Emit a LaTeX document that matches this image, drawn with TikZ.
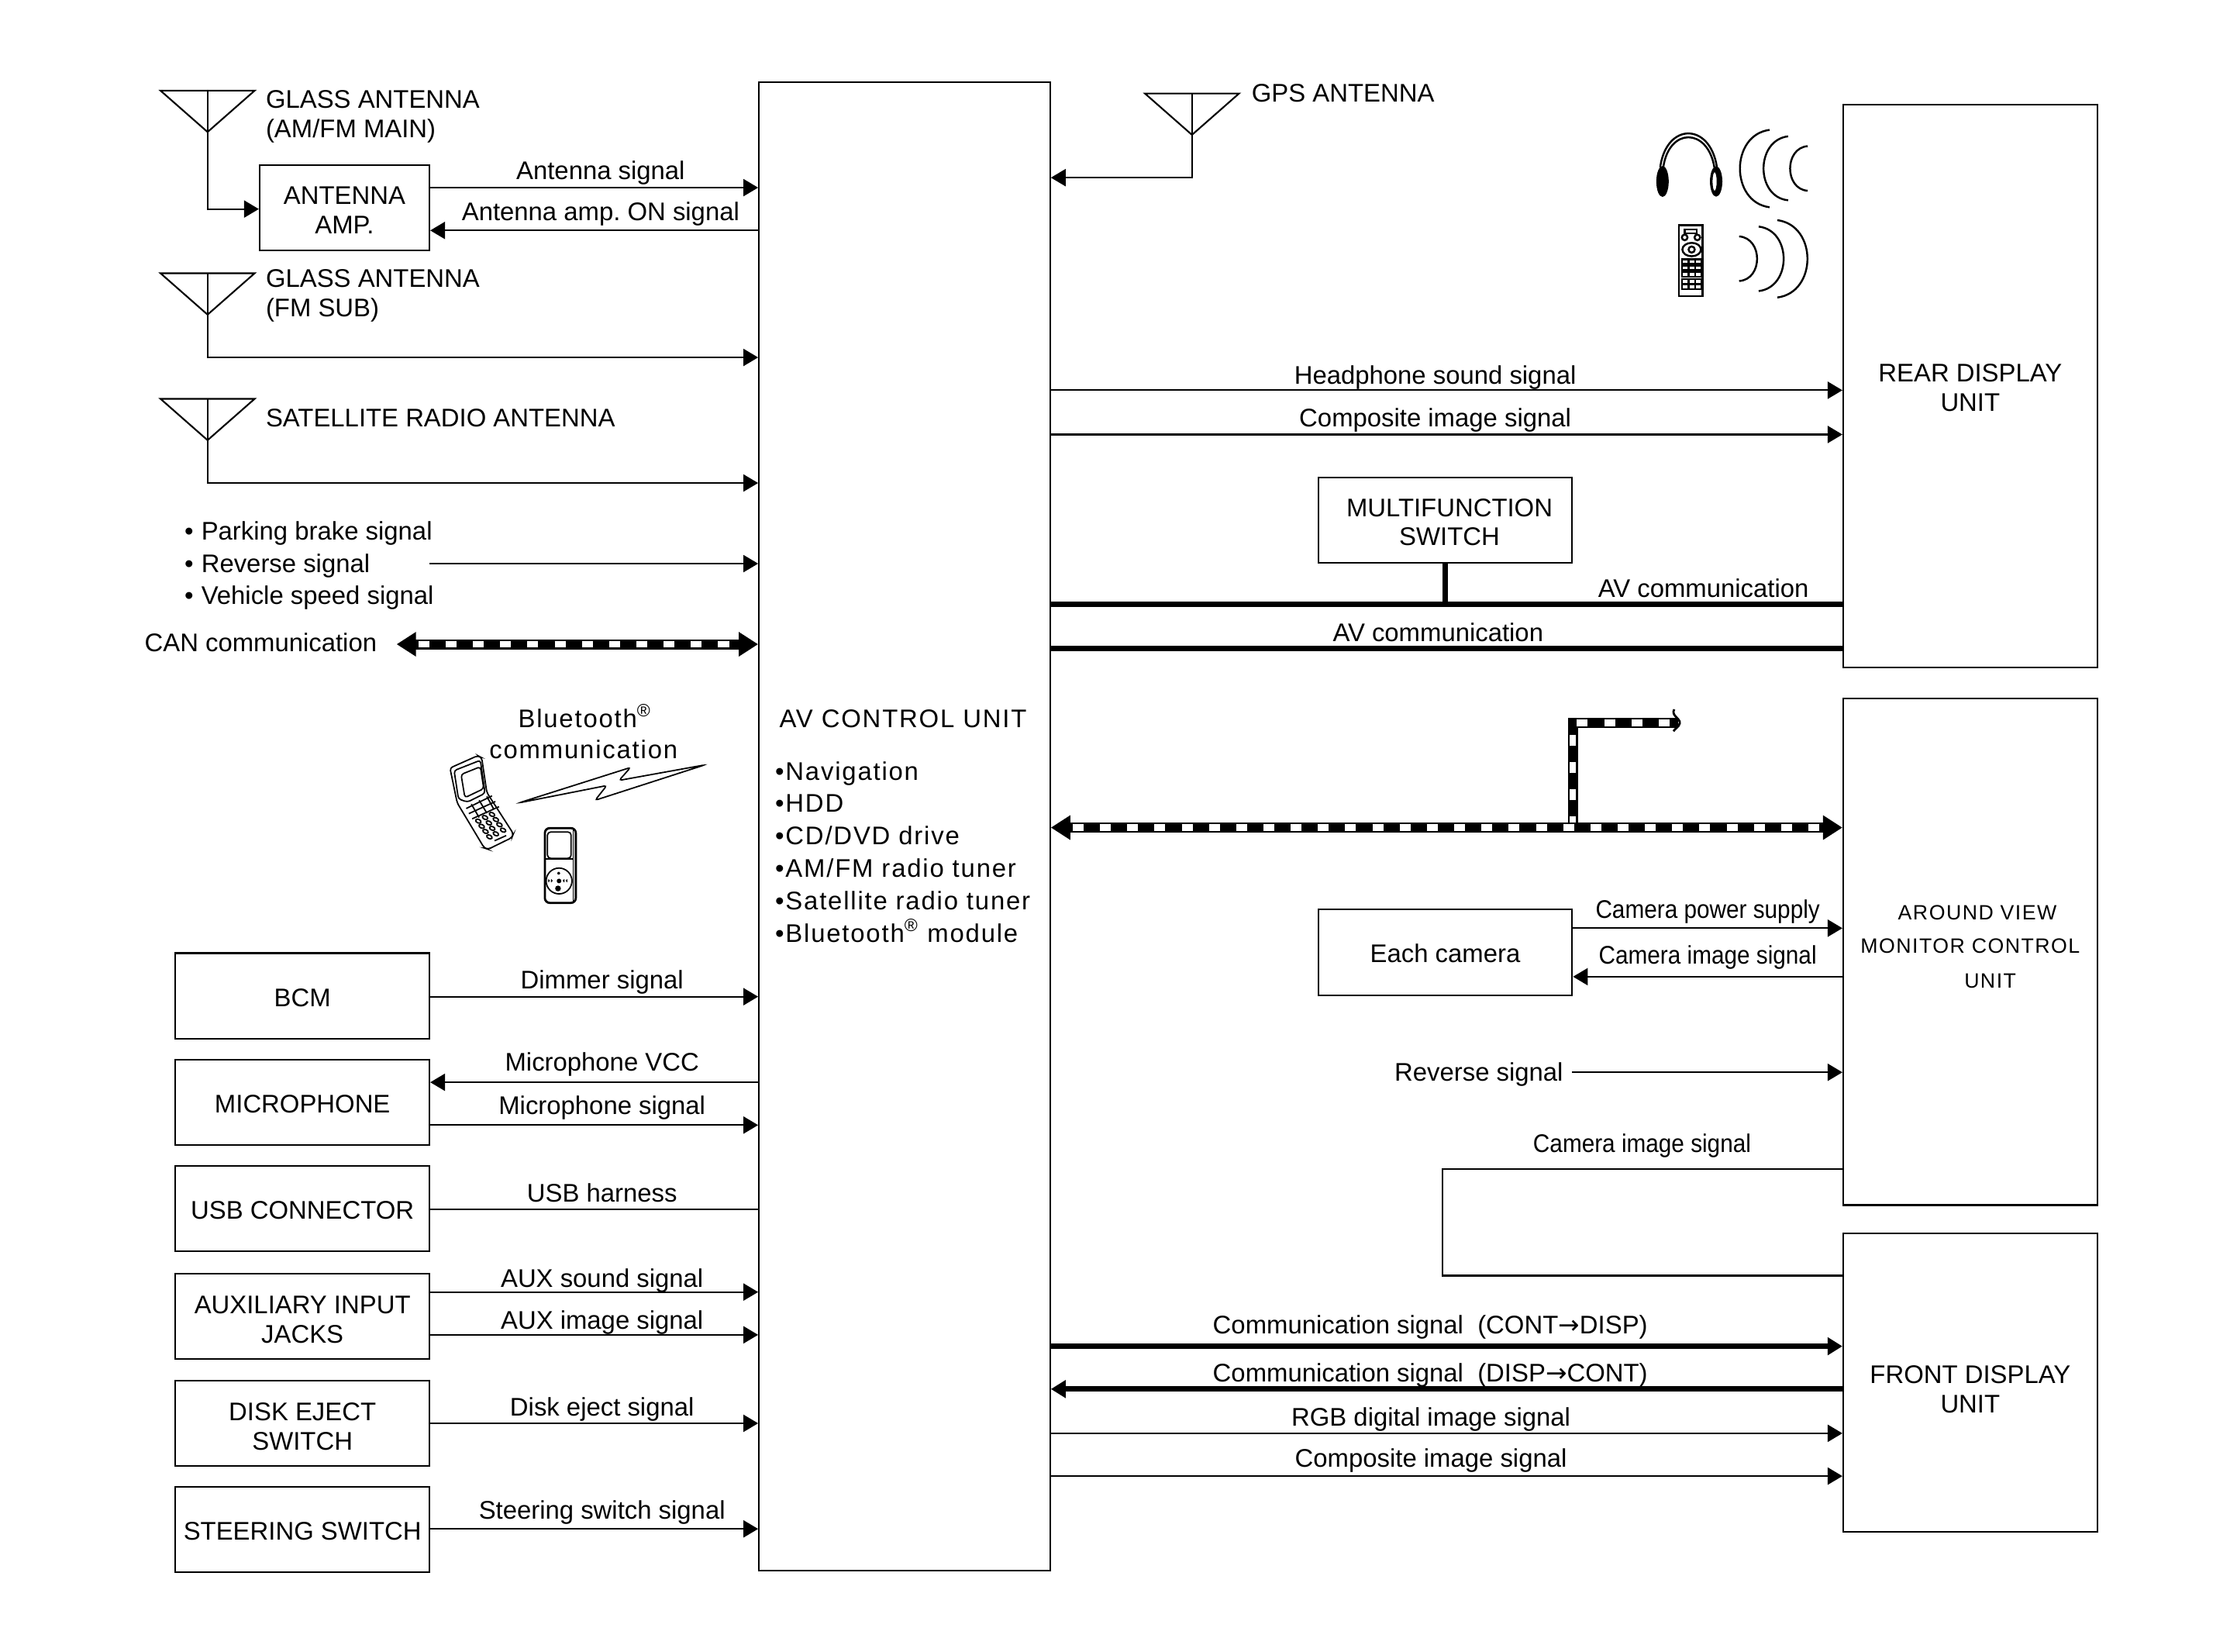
\documentclass[tikz,border=0pt]{standalone}
\usepackage{fontspec}
\setmainfont{Liberation Sans}
\newfontfamily\spacedfont[LetterSpace=5.5]{Liberation Sans}
\newfontfamily\arrowfont{DejaVu Sans}
\newcommand{\narrowtext}[1]{\scalebox{0.905}[1]{#1}}
\usetikzlibrary{arrows.meta}
\tikzset{
  antenna/.pic={\draw[line width=.6pt] (-33,0) -- (33,0) -- (0,29) -- cycle;},
  droptext/.style={execute at begin node={\rule{0pt}{#1}}},
  unitbox/.style={draw,line width=.6pt,inner sep=0pt,align=center,droptext=7.7pt},
  sidebox/.style={unitbox,minimum width=3.276cm,minimum height=1.104cm},
  sig/.style={line width=.6pt,-{Triangle[length=1.9mm,width=2.2mm]}},
  plainsig/.style={line width=.6pt},
  heavysig/.style={line width=2pt,-{Triangle[length=1.9mm,width=2.2mm]}},
  heavyline/.style={line width=2pt},
  siglabel/.style={inner sep=0pt,text height=7.6pt,text depth=2pt},
  leftlabel/.style={inner sep=0pt,anchor=west,align=left},
  bus/.style={line width=3.7pt,{Triangle[length=2.5mm,width=3mm]}-{Triangle[length=2.5mm,width=3mm]},
    postaction={draw=white,line width=2.5pt,dash pattern=on 4pt off 6pt,-,shorten >=8pt,shorten <=8pt}}
}
\begin{document}
\frenchspacing
\begin{tikzpicture}[x=0.018406cm,y=-0.018406cm,font=\fontsize{9.35}{10.8}\selectfont]
  \useasboundingbox (0,-0.5) rectangle (1568,1156.76);

  % main unit
  \node[unitbox,minimum width=3.755cm,minimum height=19.197cm] (av) at (634,578.5) {};
  \node[leftlabel,font=\fontsize{9.35}{11}\spacedfont] (avtitle) at (546,503) {AV CONTROL UNIT};
  \node[leftlabel,font=\fontsize{9.35}{11.9}\spacedfont] (avfeatures) at (543,596.5)
    {\textbullet Navigation\\\textbullet HDD\\\textbullet CD/DVD drive\\\textbullet AM/FM radio tuner\\\textbullet Satellite radio tuner\\\textbullet Bluetooth\textsuperscript{®} module};

  % antennas, left
  \coordinate (antmain) at (145.5,63);
  \coordinate (antsub) at (145.5,191);
  \coordinate (antsat) at (145.5,279);
  \pic at (antmain) {antenna};
  \pic at (antsub) {antenna};
  \pic at (antsat) {antenna};
  \node[leftlabel] (antmaintext) at (186,81) {GLASS ANTENNA\\(AM/FM MAIN)};
  \node[leftlabel] (antsubtext) at (186,206.5) {GLASS ANTENNA\\(FM SUB)};
  \node[leftlabel] (antsattext) at (186,292.5) {SATELLITE RADIO ANTENNA};
  \node[unitbox,droptext=19.1pt,minimum width=2.19cm,minimum height=1.104cm] (amp) at (241.5,145) {ANTENNA\\AMP.};
  \draw[sig] (antmain) |- (amp.west |- 0,146);
  \draw[sig] (amp.east |- 0,131) -- (av.west |- 0,131);
  \draw[sig] (av.west |- 0,161) -- (amp.east |- 0,161);
  \node[siglabel] (ampout) at (421,120) {Antenna signal};
  \node[siglabel] (ampon) at (421,148.5) {Antenna amp. ON signal};
  \draw[sig] (antsub) |- (av.west |- 0,250);
  \draw[sig] (antsat) |- (av.west |- 0,338);

  % vehicle signals
  \node[leftlabel,font=\fontsize{9.35}{11.8}\selectfont] (vehicle) at (129,396)
    {\textbullet\ \hspace{.3pt}Parking brake signal\\\textbullet\ \hspace{.3pt}Reverse signal\\\textbullet\ \hspace{.3pt}Vehicle speed signal};
  \coordinate (vehicleout) at (301,394.5);
  \draw[sig] (vehicleout) -- (av.west |- vehicleout);
  \node[leftlabel] (can) at (101,450) {CAN communication};
  \coordinate (canend) at (278,451);
  \draw[bus] (canend) -- (av.west |- canend);

  % bluetooth devices
  \node[siglabel,align=center,font=\fontsize{9.35}{11}\spacedfont] (bttext) at (410,504) {Bluetooth\textsuperscript{®}};
  \node[siglabel,font=\fontsize{9.35}{11}\spacedfont] (bttext2) at (409,525.5) {communication};
  \begin{scope}[shift={(282.5,478.1)},x=0.003333cm,y=-0.003333cm,line width=.5pt,rounded corners=1pt]
    \draw (450,465) -- (790,398) -- (745,455) -- (1170,318) -- (838,378) -- (882,328) -- cycle;
    % phone
    \draw (182,330) -- (290,282) -- (305,290) -- (325,425) -- (428,585) -- (422,600) -- (330,645) -- (315,640) -- (210,465) -- cycle;
    \draw (198,340) -- (300,300) -- (318,428) -- (250,462) -- (215,450) -- cycle;
    \draw (225,355) -- (300,325) -- (313,410) -- (240,445) -- cycle;
    \draw (245,487) -- (345,438) (255,507) -- (358,460) (268,527) -- (372,480);
    \draw (265,470) -- (295,522) (295,455) -- (325,505) (325,440) -- (352,490);
    \foreach \keyx/\keyy in {292/536,318/522,345/510,305/556,333/543,360/530,320/576,346/564,374/550,335/597,360/585,388/571}
      \draw[rotate around={-25:(\keyx,\keyy)}] (\keyx,\keyy) ellipse (11 and 7);
    \draw (355,612) -- (400,592);
    % player
    \draw[rounded corners=1.8pt,line width=.8pt] (550,563) rectangle (670,853);
    \draw[rounded corners=1.2pt] (560,578) rectangle (652,680);
    \draw (552,682) -- (660,682) (660,568) -- (660,848);
    \draw (605,768) circle (50);
    \fill (605,768) circle (9);
    \fill (590,786) rectangle (612,808);
    \fill (598,728) -- (598,748) -- (615,738) -- cycle;
    \fill (580,758) -- (580,776) -- (569,767) -- cycle (569,758) -- (569,776) -- (558,767) -- cycle;
    \fill (620,758) -- (620,776) -- (631,767) -- cycle (631,758) -- (631,776) -- (642,767) -- cycle;
  \end{scope}

  % left units
  \node[sidebox] (bcm) at (212,697.5) {BCM};
  \node[sidebox] (mic) at (212,772) {MICROPHONE};
  \node[sidebox,droptext=6.7pt] (usb) at (212,846.5) {USB CONNECTOR};
  \node[sidebox,droptext=19.5pt] (aux) at (212,922) {AUXILIARY INPUT\\JACKS};
  \node[sidebox,droptext=19.5pt] (disk) at (212,997) {DISK EJECT\\SWITCH};
  \node[sidebox,droptext=6.7pt] (steer) at (212,1071.5) {STEERING SWITCH};
  \draw[sig] (bcm.east |- 0,698) -- (av.west |- 0,698);
  \draw[sig] (av.west |- 0,758) -- (mic.east |- 0,758);
  \draw[sig] (mic.east |- 0,788) -- (av.west |- 0,788);
  \draw[plainsig] (usb.east |- 0,847) -- (av.west |- 0,847);
  \draw[sig] (aux.east |- 0,905) -- (av.west |- 0,905);
  \draw[sig] (aux.east |- 0,935) -- (av.west |- 0,935);
  \draw[sig] (disk.east |- 0,997) -- (av.west |- 0,997);
  \draw[sig] (steer.east |- 0,1071) -- (av.west |- 0,1071);
  \node[siglabel] (dimmer) at (422,687) {Dimmer signal};
  \node[siglabel] (micvcc) at (422,744.5) {Microphone VCC};
  \node[siglabel] (micsig) at (422,775) {Microphone signal};
  \node[siglabel] (usbsig) at (422,836.5) {USB harness};
  \node[siglabel] (auxsound) at (422,896.5) {AUX sound signal};
  \node[siglabel] (auximage) at (422,925.5) {AUX image signal};
  \node[siglabel] (diskeject) at (422,986.5) {Disk eject signal};
  \node[siglabel] (steersig) at (422,1059) {Steering switch signal};

  % gps
  \coordinate (antgps) at (835.5,65);
  \pic at (antgps) {antenna};
  \node[leftlabel] (gpstext) at (877,65) {GPS ANTENNA};
  \draw[sig] (antgps) |- (av.east |- 0,124);

  % rear display
  \node[unitbox,minimum width=3.276cm,minimum height=7.252cm] (rear) at (1381,270) {};
  \node[inner sep=0pt,align=center] (reartext) at (1381,271) {REAR DISPLAY\\UNIT};
  \begin{scope}[shift={(1113.8,76.06)},x=0.003333cm,y=-0.003333cm,line width=.7pt]
    % headphones
    \draw (276,225) .. controls (300,50) and (470,50) .. (496,225);
    \draw (288,225) .. controls (310,70) and (460,70) .. (486,225);
    \fill (285,280) ellipse (24 and 60);
    \fill[even odd rule] (493,280) ellipse (24 and 59) (487,280) ellipse (8 and 36);
    \draw (700,80) .. controls (547,100) and (547,360) .. (700,380);
    \draw (772,105) .. controls (645,120) and (645,340) .. (772,353);
    \draw (848,143) .. controls (757,150) and (757,310) .. (848,316);
    % remote
    \draw (349,450) rectangle (440,724);
    \draw (371,486) -- (371,466) -- (418,466) -- (418,486) (371,481) -- (418,481);
    \draw (371,497) circle (11) (420,497) circle (11);
    \draw (398,544) ellipse (36 and 26) (398,544) circle (12);
    \foreach \rowy in {582,606,632,658,680}
      \draw (360,\rowy) rectangle (436,\rowy+18) (386,\rowy) -- (386,\rowy+18) (412,\rowy) -- (412,\rowy+18);
    \draw (582,493) .. controls (675,500) and (675,660) .. (582,666);
    \draw (658,455) .. controls (787,470) and (787,690) .. (658,705);
    \draw (730,430) .. controls (886,450) and (886,710) .. (730,730);
  \end{scope}
  \draw[sig] (av.east |- 0,273) -- (rear.west |- 0,273);
  \draw[sig] (av.east |- 0,304) -- (rear.west |- 0,304);
  \node[siglabel] (hpsound) at (1006,263.5) {Headphone sound signal};
  \node[siglabel] (rearcomp) at (1006,293.5) {Composite image signal};
  \node[sidebox] (multi) at (1013,364) {};
  \node[inner sep=0pt,align=center] (multitext) at (1016,365.5) {MULTIFUNCTION\\SWITCH};
  \draw[heavyline] (av.east |- 0,423) -- (rear.west |- 0,423);
  \draw[heavyline] (multi.south) -- (multi.south |- 0,423);
  \draw[heavyline] (av.east |- 0,454) -- (rear.west |- 0,454);
  \node[siglabel] (avcomma) at (1194,412.5) {AV communication};
  \node[siglabel] (avcommb) at (1008,443.5) {AV communication};

  % around view
  \node[unitbox,minimum width=3.276cm,minimum height=6.534cm] (around) at (1381,666.5) {};
  \node[inner sep=0pt,font=\fontsize{7.6}{10}\spacedfont] (aroundtext) at (1386,639) {AROUND VIEW};
  \node[inner sep=0pt,font=\fontsize{7.6}{10}\spacedfont] (aroundtextb) at (1381,662.5) {MONITOR CONTROL};
  \node[inner sep=0pt,font=\fontsize{7.6}{10}\spacedfont] (aroundtextc) at (1395,687) {UNIT};
  \coordinate (busjoin) at (1102.4,579.5);
  \coordinate (busturn) at (1102.4,506);
  \coordinate (busend) at (1176,506);
  \draw[line width=3.7pt,postaction={draw=white,line width=2.5pt,dash pattern=on 4pt off 6pt}] (busjoin) -- (busturn) -- (busend);
  \draw[line width=.8pt] (1173.5,496.6) .. controls (1171,501) and (1178,503) .. (1177.4,506.3) .. controls (1177,509) and (1174,510) .. (1173,512);
  \draw[bus] (av.east |- busjoin) -- (around.west |- busjoin);
  \node[sidebox,droptext=6.7pt] (camera) at (1013,667) {Each camera};
  \draw[sig] (camera.east |- 0,650) -- (around.west |- 0,650);
  \draw[sig] (around.west |- 0,684) -- (camera.east |- 0,684);
  \node[siglabel] (campower) at (1197,637.5) {\narrowtext{Camera power supply}};
  \node[siglabel] (camimage) at (1197,669.5) {\narrowtext{Camera image signal}};
  \node[siglabel,anchor=east] (revtext) at (1096,752) {Reverse signal};
  \coordinate (revstart) at (1102,751);
  \draw[sig] (revstart) -- (around.west |- revstart);
  \node[siglabel] (frontcam) at (1151,801.5) {\narrowtext{Camera image signal}};

  % front display
  \node[unitbox,minimum width=3.276cm,minimum height=3.847cm] (front) at (1381,968.5) {};
  \node[inner sep=0pt,align=center] (fronttext) at (1381,973) {FRONT DISPLAY\\UNIT};
  \coordinate (loopa) at (1011,819);
  \coordinate (loopb) at (1011,893.5);
  \draw[plainsig] (around.west |- loopa) -- (loopa) -- (loopb) -- (front.west |- loopb);
  \draw[heavysig] (av.east |- 0,943) -- (front.west |- 0,943);
  \draw[heavysig] (front.west |- 0,973) -- (av.east |- 0,973);
  \draw[sig] (av.east |- 0,1004) -- (front.west |- 0,1004);
  \draw[sig] (av.east |- 0,1034) -- (front.west |- 0,1034);
  \node[siglabel] (commone) at (1002.5,929) {Communication signal\ \ (CONT{\arrowfont→}DISP)};
  \node[siglabel] (commtwo) at (1002.5,962.5) {Communication signal\ \ (DISP{\arrowfont→}CONT)};
  \node[siglabel] (rgb) at (1003,993.5) {RGB digital image signal};
  \node[siglabel] (frontcomp) at (1003,1022.5) {Composite image signal};
\end{tikzpicture}
\end{document}
